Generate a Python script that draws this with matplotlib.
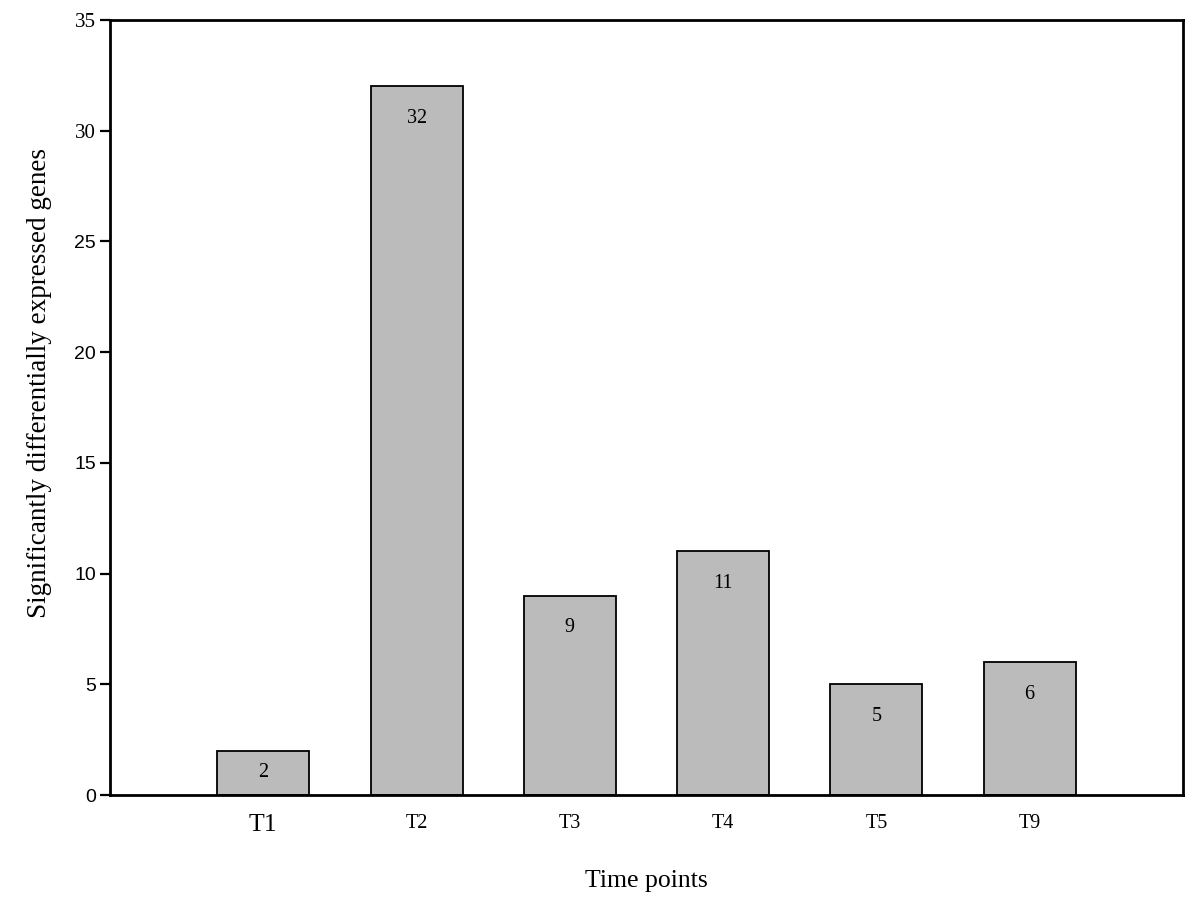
import matplotlib
matplotlib.use("Agg")
import matplotlib.pyplot as plt

# data
time_points = ["T1", "T2", "T3", "T4", "T5", "T9"]
gene_counts = [2, 32, 9, 11, 5, 6]
y_ticks = [0, 5, 10, 15, 20, 25, 30, 35]

serif = "Liberation Serif"
sans = "Liberation Sans"

fig = plt.figure(figsize=(12, 9.11), dpi=100)
ax = fig.add_axes([0.0917, 0.1273, 0.8941, 0.8507])

positions = list(range(1, len(time_points) + 1))
ax.bar(positions, gene_counts, width=0.6, color="#bbbbbb",
       edgecolor="black", linewidth=1.3, zorder=2)

# value labels inside the bars, near the top (centred for short bars)
for x, v in zip(positions, gene_counts):
    ax.text(x, max(v - 1.45, v / 2), str(v), ha="center", va="center",
            fontsize=14.5, family=serif, zorder=3)

ax.set_xlim(0, 7)
ax.set_ylim(0, 35)

ax.set_xticks(positions)
ax.set_xticklabels(time_points, family=serif, fontsize=14.5)
ax.get_xticklabels()[0].set_fontsize(18.5)
ax.tick_params(axis="x", length=0, pad=14)

ax.set_yticks(y_ticks)
ax.set_yticklabels([str(t) for t in y_ticks])
for lab, t in zip(ax.get_yticklabels(), y_ticks):
    # the top two labels are in a serif face, the rest sans
    if t >= 30:
        lab.set_family(serif)
        lab.set_fontsize(15)
    else:
        lab.set_family(sans)
        lab.set_fontsize(14)
ax.tick_params(axis="y", direction="out", length=7, width=1.6, pad=3)

for s in ax.spines.values():
    s.set_linewidth(2)

ax.set_xlabel("Time points", family=serif, fontsize=18.5, labelpad=24)
ax.set_ylabel("Significantly differentially expressed genes", family=serif,
              fontsize=19.5)
ax.yaxis.set_label_coords(-0.054, 0.532)

fig.savefig("out.png", dpi=100)
